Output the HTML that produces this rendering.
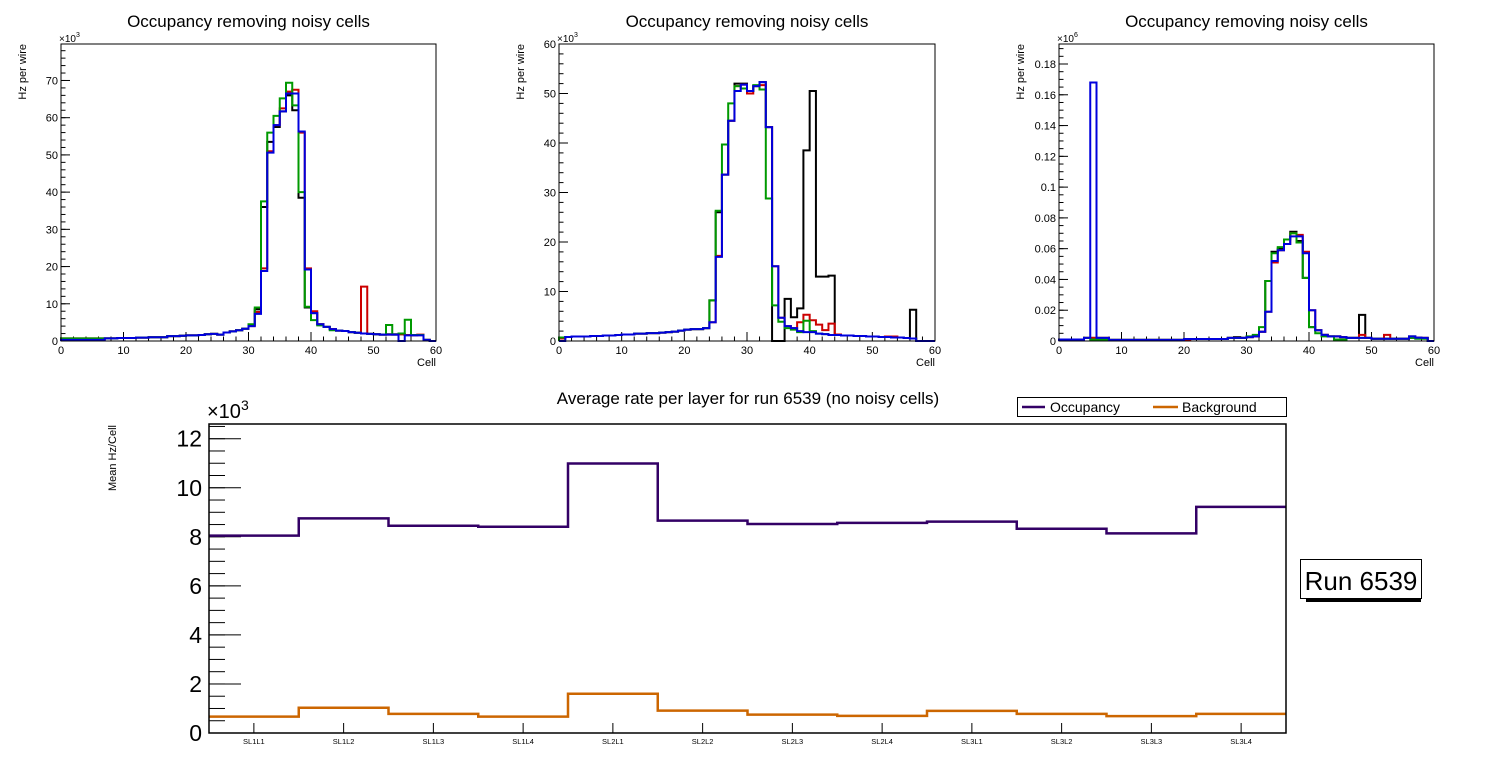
<!DOCTYPE html>
<html><head><meta charset="utf-8">
<style>
html,body{margin:0;padding:0;background:#fff;}
svg{display:block;font-family:"Liberation Sans",sans-serif;}
</style></head>
<body>
<svg id="c" width="1496" height="772" viewBox="0 0 1496 772" xmlns="http://www.w3.org/2000/svg"></svg>
<script>
// ---------- data ----------
const p1Black=[0.5,0.5,0.5,0.5,0.5,0.5,0.5,0.7,0.7,0.8,0.8,0.8,0.9,0.9,1.0,1.0,1.0,1.3,1.3,1.4,1.5,1.5,1.6,1.8,1.9,1.7,2.3,2.6,2.9,3.3,4.3,8.5,36,53.5,57.5,61.7,66,62,38.5,9,7.5,4.5,3.8,3.2,2.8,2.7,2.4,2.2,2.0,1.9,1.8,1.7,1.8,1.8,1.8,1.6,1.6,1.6,0.3,0];
const p1Red=[0.7,0.7,0.7,0.7,0.7,0.7,0.7,0.7,0.7,0.8,0.8,0.8,0.9,0.9,1.0,1.0,1.0,1.3,1.3,1.4,1.5,1.5,1.6,1.8,1.9,1.7,2.3,2.6,2.9,3.3,4.0,7.8,19.5,51,58,62.5,67,67.5,56,19.5,8,4.5,3.8,3.2,2.8,2.7,2.4,2.2,14.6,1.9,1.8,1.7,1.7,1.7,1.8,1.6,1.5,1.7,0.3,0];
const p1Green=[0.7,0.7,0.7,0.7,0.7,0.7,0.7,0.7,0.7,0.8,0.8,0.8,0.9,0.9,1.0,1.0,1.0,1.3,1.3,1.4,1.5,1.5,1.6,1.8,1.9,1.7,2.3,2.6,2.9,3.3,4.5,9,37.5,56,60.5,65.2,69.4,63.3,40,9.2,5.6,4.2,3.8,2.9,2.8,2.7,2.4,2.2,2.0,1.9,1.8,1.7,4.3,1.7,2.0,5.7,1.6,1.6,0.3,0];
const p1Blue=[0.3,0.3,0.3,0.3,0.3,0.3,0.3,0.7,0.7,0.8,0.8,0.8,0.9,0.9,1.0,1.0,1.0,1.3,1.3,1.4,1.5,1.5,1.6,1.8,1.9,1.7,2.3,2.6,2.9,3.3,4.0,7.3,18.8,50.6,58.0,61.7,66.5,66.5,56.3,19.2,7.5,4.5,3.8,3.2,2.8,2.7,2.4,2.2,2.0,1.9,1.8,1.7,1.7,1.7,0,1.5,1.5,1.5,0.3,0];

const p2Black=[0.5,0.8,0.9,0.9,0.9,1.0,1.0,1.1,1.1,1.2,1.3,1.3,1.5,1.5,1.6,1.6,1.7,1.8,1.9,2.1,2.3,2.4,2.4,2.6,8.2,26,33.6,44.5,52,52,50.5,51.5,52.3,43.2,0,0,8.5,4.8,6.6,38.5,50.5,13,13,13.2,1.3,1.1,1.1,1.0,1.0,0.9,0.9,0.8,0.8,0.7,0.7,0.6,6.3,0,0,0];
const p2Red=[0.5,0.8,0.9,0.9,0.9,1.0,1.0,1.1,1.1,1.2,1.3,1.3,1.5,1.5,1.6,1.6,1.7,1.8,1.9,2.1,2.3,2.4,2.4,2.6,3.8,17.2,33.6,44.5,51.5,51.8,50,51.5,51.7,43.2,15.1,4.7,3.0,2.6,3.8,5.3,4.2,3.3,2.2,3.5,1.3,1.1,1.1,1.0,1.0,0.9,0.9,0.8,0.9,0.9,0.7,0.6,0.5,0,0,0];
const p2Green=[0.7,0.8,0.9,0.9,0.9,1.0,1.0,1.1,1.1,1.2,1.3,1.3,1.5,1.5,1.6,1.6,1.7,1.8,1.9,2.1,2.3,2.4,2.4,2.6,8.2,26.3,39.7,48,51.5,51,50.5,51.7,50.8,28.8,7.2,3.9,2.6,2.3,1.8,4.1,2.0,1.5,1.4,1.2,1.2,1.1,1.1,1.0,1.0,0.9,0.9,0.8,0.8,0.7,0.7,0.6,0.5,0,0,0];
const p2Blue=[0,0.8,0.9,0.9,0.9,1.0,1.0,1.1,1.1,1.2,1.3,1.3,1.5,1.5,1.6,1.6,1.7,1.8,1.9,2.1,2.3,2.4,2.4,2.6,3.8,17,33.6,44.5,50.5,51.8,50.5,51.5,52.3,43.2,15.1,4.7,3.0,2.6,2.0,1.8,1.8,1.5,1.4,1.2,1.2,1.1,1.1,1.0,1.0,0.9,0.9,0.8,0.8,0.7,0.7,0.6,0.5,0,0,0];

const p3Black=[0.001,0.001,0.001,0.001,0.002,0.002,0.002,0.002,0.0007,0.0007,0.0007,0.0007,0.0007,0.0007,0.0007,0.0007,0.0007,0.0007,0.0007,0.0007,0.0013,0.0013,0.0013,0.0013,0.0013,0.0013,0.0013,0.002,0.0025,0.002,0.0025,0.003,0.006,0.039,0.058,0.060,0.066,0.071,0.065,0.041,0.009,0.007,0.004,0.003,0.003,0.0025,0.002,0.002,0.017,0.002,0.0015,0.0015,0.0015,0.0015,0.0015,0.0015,0.003,0.0022,0.002,0];
const p3Red=[0.001,0.001,0.0005,0.001,0.002,0.002,0.002,0.002,0.0007,0.0007,0.0007,0.0007,0.0007,0.0007,0.0007,0.0007,0.0007,0.0007,0.0007,0.0007,0.0010,0.0013,0.0013,0.0013,0.0013,0.0013,0.0013,0.002,0.002,0.002,0.0025,0.003,0.006,0.019,0.051,0.059,0.063,0.070,0.069,0.058,0.020,0.007,0.004,0.003,0.003,0.0025,0.002,0.002,0.004,0.002,0.0015,0.0015,0.004,0.0015,0.0015,0.0015,0.002,0.0022,0.002,0];
const p3Green=[0.001,0.001,0.001,0.001,0.002,0.001,0.001,0.001,0.0007,0.0007,0.0007,0.0007,0.0007,0.0007,0.0007,0.0007,0.0007,0.0007,0.0007,0.0007,0.0013,0.0013,0.0013,0.0013,0.0013,0.0013,0.0013,0.002,0.002,0.002,0.003,0.004,0.009,0.039,0.057,0.061,0.066,0.070,0.064,0.041,0.009,0.005,0.003,0.003,0.001,0.001,0.002,0.002,0.002,0.002,0.0015,0.0015,0.0015,0.0015,0.0015,0.0015,0.002,0.0015,0.0015,0];
const p3Blue=[0.001,0.001,0.001,0.001,0.002,0.168,0.002,0.002,0.0007,0.0007,0.0007,0.0007,0.0007,0.0007,0.0007,0.0007,0.0007,0.0007,0.0007,0.0007,0.0013,0.0013,0.0013,0.0013,0.0013,0.0013,0.0013,0.002,0.002,0.002,0.0025,0.003,0.006,0.019,0.052,0.059,0.063,0.068,0.068,0.057,0.020,0.007,0.004,0.003,0.003,0.0025,0.002,0.002,0.002,0.002,0.0015,0.0015,0.0015,0.0015,0.0015,0.0015,0.003,0.0022,0.002,0];

const p1YTicks=[0,10,20,30,40,50,60,70];
const p2YTicks=[0,10,20,30,40,50,60];
const p3YTicks=[0,0.02,0.04,0.06,0.08,0.1,0.12,0.14,0.16,0.18];
const p3YLabels=["0","0.02","0.04","0.06","0.08","0.1","0.12","0.14","0.16","0.18"];
const xTicks=[0,10,20,30,40,50,60];

const layers=["SL1L1","SL1L2","SL1L3","SL1L4","SL2L1","SL2L2","SL2L3","SL2L4","SL3L1","SL3L2","SL3L3","SL3L4"];
const occupancy=[8.05,8.75,8.45,8.41,10.99,8.66,8.52,8.57,8.62,8.33,8.14,9.22];
const background=[0.67,1.03,0.78,0.67,1.60,0.91,0.75,0.70,0.90,0.78,0.69,0.78];
const bottomYTicks=[0,2,4,6,8,10,12];

// ---------- helpers ----------
const NS="http://www.w3.org/2000/svg";
const svg=document.getElementById('c');
function mk(tag,attrs,parent){const e=document.createElementNS(NS,tag);for(const k in attrs)e.setAttribute(k,attrs[k]);(parent||svg).appendChild(e);return e;}
function txt(s,attrs,parent){const t=mk('text',attrs,parent);t.textContent=s;return t;}

function stepPath(vals,xs,ys,n,closeEnds){
  let d;
  if(closeEnds){d='M'+xs(0)+','+ys(0)+' V'+ys(vals[0]).toFixed(2);}
  else{d='M'+xs(0)+','+ys(vals[0]).toFixed(2);}
  for(let i=0;i<n;i++){if(i>0)d+=' V'+ys(vals[i]).toFixed(2);d+=' H'+xs(i+1).toFixed(2);}
  if(closeEnds)d+=' V'+ys(0);
  return d;
}

function panel(id,F,ymax,yTicks,yLabels,minorStep,series,expo){
  const g=mk('g',{});
  
  
  const xs=v=>F.x0+(F.x1-F.x0)*v/60;
  const ys=v=>F.y1-(F.y1-F.y0)*v/ymax;
  const cx=(F.x0+F.x1)/2;
  const title=txt('Occupancy removing noisy cells',{x:cx,y:27,'font-size':17,'text-anchor':'middle',fill:'#000'},g);
  
  
  for(let v=0;v<=60;v+=2){const major=v%10===0;mk('line',{x1:xs(v),x2:xs(v),y1:F.y1,y2:F.y1-(major?9:4.5),stroke:'#000','stroke-width':1},g);}
  for(let i=0;i<xTicks.length;i++){
    const t=txt(String(xTicks[i]),{x:xs(xTicks[i]),y:F.y1+13,'font-size':11,'text-anchor':'middle'},g);
    
    
  }
  for(let v=0;v<=ymax+1e-9;v+=minorStep){mk('line',{x1:F.x0,x2:F.x0+4.5,y1:ys(v),y2:ys(v),stroke:'#000','stroke-width':1},g);}
  for(let i=0;i<yTicks.length;i++){
    mk('line',{x1:F.x0,x2:F.x0+9,y1:ys(yTicks[i]),y2:ys(yTicks[i]),stroke:'#000','stroke-width':1},g);
    const t=txt(yLabels[i],{x:F.x0-3,y:ys(yTicks[i])+4,'font-size':11,'text-anchor':'end'},g);
    
    
  }
  const ex=txt('×10',{x:F.x0-2,y:F.y0-2,'font-size':10},g);
  const sup=mk('tspan',{dy:-5,'font-size':7},ex);sup.textContent=expo;
  
  
  const yl=txt('Hz per wire',{transform:'translate('+(F.x0-35)+','+F.y0+') rotate(-90)','font-size':11,'text-anchor':'end'},g);
  
  
  const xl=txt('Cell',{x:F.x1,y:F.y1+25,'font-size':11,'text-anchor':'end'},g);
  
  
  const cols=['#000000','#cc0000','#009900','#0000dd'];
  const names=['series-black','series-red','series-green','series-blue'];
  for(let s=0;s<series.length;s++){
    const p=mk('path',{d:stepPath(series[s],xs,ys,60,true),fill:'none',stroke:cols[s],'stroke-width':2,'stroke-linejoin':'miter'},g);
    
    
  }
  const fr=mk('rect',{x:F.x0,y:F.y0,width:F.x1-F.x0,height:F.y1-F.y0,fill:'none',stroke:'#000','stroke-width':1},g);
  
  
}

panel('panel-1',{x0:61,x1:436,y0:44,y1:341},79.8,p1YTicks,p1YTicks.map(String),2,[p1Black,p1Red,p1Green,p1Blue],'3');
panel('panel-2',{x0:559,x1:935,y0:44,y1:341},60,p2YTicks,p2YTicks.map(String),2,[p2Black,p2Red,p2Green,p2Blue],'3');
panel('panel-3',{x0:1059,x1:1434,y0:44,y1:341},0.193,p3YTicks,p3YLabels,0.005,[p3Black,p3Red,p3Green,p3Blue],'6');

// ---------- bottom chart ----------
(function(){
  const F={x0:209,x1:1286,y0:424,y1:733};
  const ymax=12.6;
  const n=layers.length;
  const xs=i=>F.x0+(F.x1-F.x0)*i/n;
  const ys=v=>F.y1-(F.y1-F.y0)*v/ymax;
  const g=mk('g',{});
  
  
  const t=txt('Average rate per layer for run 6539 (no noisy cells)',{x:748,y:404,'font-size':17,'text-anchor':'middle'},g);
  
  
  for(let v=0;v<=ymax;v+=0.5){mk('line',{x1:F.x0,x2:F.x0+16,y1:ys(v),y2:ys(v),stroke:'#000','stroke-width':1},g);}
  for(const v of bottomYTicks){
    mk('line',{x1:F.x0,x2:F.x0+32,y1:ys(v),y2:ys(v),stroke:'#000','stroke-width':1},g);
    const l=txt(String(v),{x:F.x0-7,y:ys(v)+8,'font-size':23,'text-anchor':'end'},g);
    
    
  }
  const ex=txt('×10',{x:F.x0-2,y:F.y0-6,'font-size':20},g);
  const sup=mk('tspan',{dy:-8,'font-size':14},ex);sup.textContent='3';
  
  
  const yl=txt('Mean Hz/Cell',{transform:'translate(116,425) rotate(-90)','font-size':11,'text-anchor':'end'},g);
  
  
  for(let i=0;i<n;i++){
    const cx=(xs(i)+xs(i+1))/2;
    mk('line',{x1:cx,x2:cx,y1:F.y1,y2:F.y1-10,stroke:'#000','stroke-width':1},g);
    const l=txt(layers[i],{x:cx,y:F.y1+11,'font-size':7.5,'text-anchor':'middle'},g);
    
    
  }
  const po=mk('path',{d:stepPath(occupancy,xs,ys,n,false),fill:'none',stroke:'#330066','stroke-width':2.5},g);
  
  
  const pb=mk('path',{d:stepPath(background,xs,ys,n,false),fill:'none',stroke:'#cc6600','stroke-width':2.5},g);
  
  
  const fr=mk('rect',{x:F.x0,y:F.y0,width:F.x1-F.x0,height:F.y1-F.y0,fill:'none',stroke:'#000','stroke-width':1.5},g);
  
  
  const lg=mk('g',{},g);
  
  
  mk('rect',{x:1017.5,y:397.5,width:269,height:19,fill:'#fff',stroke:'#000','stroke-width':1},lg);
  mk('line',{x1:1022,x2:1045,y1:407,y2:407,stroke:'#330066','stroke-width':2.5},lg);
  const e1=txt('Occupancy',{x:1050,y:412,'font-size':14},lg);
  
  
  mk('line',{x1:1153,x2:1178,y1:407,y2:407,stroke:'#cc6600','stroke-width':2.5},lg);
  const e2=txt('Background',{x:1182,y:412,'font-size':14},lg);
  
  
  const rb=mk('g',{},g);
  
  
  mk('rect',{x:1306,y:598,width:115,height:4,fill:'#000'},rb);
  mk('rect',{x:1300.5,y:559.5,width:121,height:39,fill:'#fff',stroke:'#000','stroke-width':1},rb);
  txt('Run 6539',{x:1361,y:590,'font-size':26,'text-anchor':'middle'},rb);
})();
</script>
</body></html>
